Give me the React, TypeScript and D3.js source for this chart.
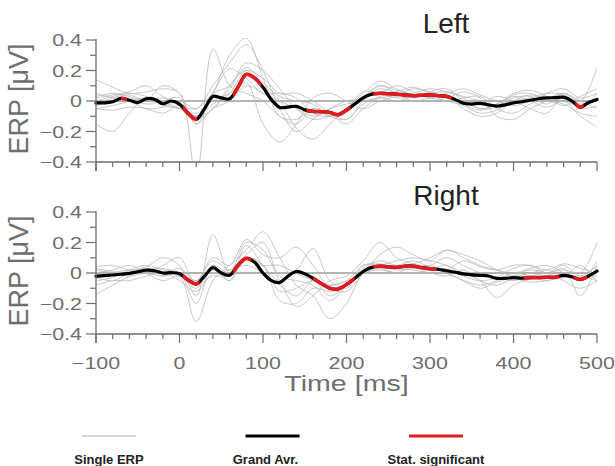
import React, { useEffect, useRef } from 'react';
import * as d3 from 'd3';

// time grids (ms)
const meanTimes = [
  -100, -90, -80, -70, -60, -50, -40, -30, -20, -10, 0, 10, 20, 30, 40, 50, 60, 70, 80, 90,
  100, 110, 120, 130, 140, 150, 160, 170, 180, 190, 200, 210, 220, 230, 240, 250, 260, 270, 280, 290,
  300, 310, 320, 330, 340, 350, 360, 370, 380, 390, 400, 410, 420, 430, 440, 450, 460, 470, 480, 490, 500,
];
const singleTimes = [
  -100, -80, -60, -40, -20, 0, 20, 40, 60, 80, 100, 120, 140, 160, 180, 200,
  220, 240, 260, 280, 300, 320, 340, 360, 380, 400, 420, 440, 460, 480, 500,
];

// grand averages
const leftMean = [
  -0.012, -0.012, -0.005, 0.018, 0.005, -0.01, 0.015, 0.012, -0.018, 0.0, -0.02, -0.08, -0.12, -0.05, 0.03, 0.02, 0.015, 0.09, 0.175, 0.15,
  0.09, 0.01, -0.042, -0.04, -0.035, -0.058, -0.068, -0.07, -0.075, -0.09, -0.06, -0.02, 0.02, 0.045, 0.05, 0.048, 0.045, 0.04, 0.035, 0.038,
  0.04, 0.035, 0.03, 0.01, -0.015, -0.02, -0.015, -0.025, -0.033, -0.025, -0.012, -0.005, 0.005, 0.015, 0.02, 0.022, 0.025, 0.0, -0.04, -0.01, 0.01,
];
const rightMean = [
  -0.02, -0.017, -0.013, -0.008, -0.002, 0.008, 0.018, 0.015, 0.0, 0.002, -0.005, -0.045, -0.072, -0.02, 0.035, 0.0, -0.015, 0.05, 0.096, 0.07,
  0.0, -0.05, -0.062, -0.02, 0.01, -0.005, -0.035, -0.07, -0.1, -0.105, -0.075, -0.035, 0.01, 0.037, 0.045, 0.04, 0.037, 0.045, 0.045, 0.035,
  0.028, 0.024, 0.015, 0.005, -0.006, -0.012, -0.015, -0.02, -0.035, -0.035, -0.03, -0.033, -0.03, -0.03, -0.028, -0.028, -0.015, -0.025, -0.042, -0.02, 0.013,
];

// statistically significant windows (ms)
const leftSignificant = [[-70, -63], [4, 21], [64, 98], [152, 205], [232, 326], [474, 484]];
const rightSignificant = [[4, 24], [64, 86], [160, 210], [232, 308], [412, 455], [472, 488]];

// single subject ERPs
const leftSingles = [
  [0.14, 0.09, 0.05, 0.06, 0.08, 0.05, -0.5, 0.34, 0.1, 0.05, 0.0, -0.1, -0.15, -0.05, -0.1, -0.05, 0.06, 0.05, 0.02, 0.03, 0.05, 0.06, 0.03, 0.0, -0.03, 0.04, 0.05, 0.0, -0.02, -0.08, -0.1],
  [-0.05, -0.03, 0.0, 0.02, 0.0, -0.05, -0.1, 0.05, 0.3, 0.41, 0.15, -0.1, -0.12, -0.05, -0.08, -0.12, 0.0, 0.08, 0.05, 0.02, 0.06, 0.08, 0.0, -0.05, -0.04, 0.02, 0.03, -0.02, 0.05, 0.0, 0.22],
  [0.03, 0.05, 0.03, 0.0, 0.02, -0.03, -0.05, 0.1, 0.25, 0.37, 0.2, -0.05, -0.2, -0.12, -0.05, 0.0, 0.02, 0.1, 0.07, 0.04, 0.02, 0.0, -0.03, -0.08, -0.06, 0.0, 0.02, 0.05, 0.04, -0.05, -0.03],
  [-0.15, -0.2, -0.08, 0.02, -0.03, -0.05, -0.08, 0.0, 0.05, 0.12, -0.15, -0.27, -0.15, 0.02, 0.05, 0.0, -0.05, 0.0, 0.03, 0.05, 0.08, 0.06, 0.02, -0.05, -0.02, 0.03, 0.0, -0.04, 0.0, -0.1, -0.17],
  [0.02, 0.04, 0.06, 0.1, 0.03, -0.02, -0.1, -0.05, 0.1, 0.2, 0.1, 0.0, -0.18, -0.25, -0.15, -0.05, 0.05, 0.13, 0.08, 0.04, 0.03, 0.05, 0.08, 0.04, 0.0, -0.03, 0.0, 0.05, 0.08, 0.02, 0.05],
  [-0.03, 0.0, 0.02, -0.02, 0.0, 0.02, -0.15, 0.05, 0.21, 0.15, 0.05, 0.05, 0.02, -0.08, -0.1, -0.05, 0.02, 0.05, 0.1, 0.06, 0.02, 0.04, -0.02, -0.06, -0.02, 0.05, 0.07, 0.03, -0.03, 0.03, 0.08],
  [0.0, 0.03, 0.05, 0.03, -0.02, -0.05, -0.12, -0.05, 0.08, 0.22, 0.12, 0.03, 0.0, -0.02, -0.1, -0.12, -0.02, 0.03, 0.06, 0.09, 0.05, 0.0, 0.02, 0.03, -0.05, -0.08, -0.02, 0.02, 0.0, -0.02, 0.02],
  [-0.05, -0.06, -0.04, -0.05, -0.08, -0.03, -0.1, -0.02, 0.05, 0.2, 0.15, 0.05, 0.05, 0.0, -0.08, -0.15, -0.05, 0.02, 0.0, 0.03, 0.04, 0.02, 0.06, 0.02, -0.1, -0.12, -0.05, 0.0, 0.05, -0.05, 0.05],
  [0.05, 0.02, 0.0, -0.05, -0.04, 0.0, -0.05, 0.05, 0.1, 0.25, 0.2, 0.08, -0.05, -0.12, -0.1, -0.05, 0.03, 0.1, 0.05, 0.0, 0.02, 0.03, -0.05, -0.1, -0.08, 0.0, 0.04, 0.02, 0.05, 0.0, -0.05],
  [-0.02, 0.02, 0.04, 0.0, 0.1, 0.05, -0.15, -0.05, 0.0, 0.1, 0.05, 0.0, -0.05, -0.1, -0.05, -0.02, 0.0, 0.02, 0.04, 0.08, 0.06, 0.03, 0.0, -0.02, 0.03, 0.0, -0.05, -0.08, 0.03, -0.03, 0.02],
];
const rightSingles = [
  [-0.14, -0.08, -0.02, 0.03, 0.0, -0.02, -0.32, -0.05, 0.05, 0.15, 0.27, 0.1, -0.08, -0.15, -0.3, -0.2, 0.0, 0.05, 0.02, 0.03, 0.05, 0.0, -0.05, -0.1, -0.06, -0.02, 0.02, 0.0, -0.05, -0.1, -0.05],
  [0.04, 0.05, 0.02, 0.04, 0.1, 0.05, -0.15, 0.25, 0.0, 0.2, 0.15, -0.05, -0.22, -0.15, -0.05, -0.02, 0.08, 0.2, 0.1, 0.06, 0.05, 0.1, 0.05, 0.0, -0.03, -0.05, -0.02, 0.0, 0.02, 0.0, 0.2],
  [-0.05, -0.03, 0.02, 0.05, 0.02, 0.0, -0.2, 0.05, -0.05, 0.1, 0.05, -0.18, -0.2, -0.1, -0.12, -0.08, 0.02, 0.05, 0.08, 0.1, 0.08, 0.05, 0.0, -0.05, -0.16, -0.08, -0.04, -0.02, 0.03, -0.15, 0.05],
  [0.02, 0.0, -0.02, 0.0, -0.02, 0.03, -0.05, 0.1, 0.05, 0.22, 0.12, 0.1, 0.17, 0.05, -0.1, -0.12, 0.0, 0.12, 0.17, 0.12, 0.08, 0.15, 0.1, 0.05, 0.02, 0.0, 0.03, 0.05, 0.0, -0.05, 0.08],
  [-0.02, 0.0, 0.02, 0.0, 0.05, 0.1, -0.08, 0.02, -0.05, 0.18, 0.05, -0.05, 0.02, 0.16, -0.05, -0.1, 0.05, 0.05, 0.03, 0.02, 0.0, -0.02, 0.02, -0.05, -0.08, -0.04, -0.06, -0.05, -0.03, -0.02, -0.05],
  [0.0, 0.02, 0.05, 0.0, -0.05, -0.02, -0.1, 0.05, 0.0, 0.1, 0.05, -0.12, -0.1, -0.05, -0.15, -0.08, 0.0, 0.03, 0.0, 0.05, 0.03, 0.0, -0.05, -0.08, -0.05, 0.0, -0.02, -0.05, 0.0, 0.0, -0.02],
  [-0.08, -0.05, -0.05, -0.02, 0.0, -0.05, -0.12, 0.0, 0.02, 0.12, 0.2, -0.02, -0.05, -0.08, -0.18, -0.08, 0.03, 0.08, 0.05, 0.08, 0.04, 0.02, 0.08, 0.04, 0.02, 0.05, 0.05, 0.02, 0.06, 0.03, 0.0],
  [0.03, 0.01, 0.0, 0.02, 0.03, 0.0, -0.05, 0.08, 0.02, 0.05, 0.0, -0.08, -0.15, -0.05, -0.08, -0.05, 0.05, 0.06, 0.04, 0.06, 0.1, 0.15, 0.12, 0.08, 0.02, -0.02, 0.0, 0.02, -0.02, 0.05, -0.06],
  [-0.03, -0.05, 0.0, 0.03, -0.02, 0.0, -0.08, -0.02, -0.02, 0.08, 0.05, 0.05, 0.0, -0.05, -0.08, -0.05, 0.0, 0.02, 0.0, 0.0, 0.02, 0.05, -0.02, -0.05, -0.03, 0.03, 0.05, 0.0, 0.05, -0.02, 0.05],
];

const panelTitles = ['Left', 'Right'];
const yTicks = [-0.4, -0.2, 0, 0.2, 0.4];
const xTicks = [-100, 0, 100, 200, 300, 400, 500];
const legendLabels = ['Single ERP', 'Grand Avr.', 'Stat. significant'];

const GRAY = '#6e6e6e';

const App = () => {
  const svgRef = useRef<SVGSVGElement | null>(null);

  useEffect(() => {
    const svg = d3.select(svgRef.current);
    svg.selectAll('*').remove();

    const width = 615;
    const height = 466;
    svg.attr('width', width).attr('height', height);

    const x = d3.scaleLinear().domain([-100, 500]).range([96, 597]);

    const panels = [
      { title: panelTitles[0], mean: leftMean, singles: leftSingles, sig: leftSignificant, top: 40, bottom: 162, titleY: 33, labels: false },
      { title: panelTitles[1], mean: rightMean, singles: rightSingles, sig: rightSignificant, top: 212, bottom: 334, titleY: 205, labels: true },
    ];

    panels.forEach((p, pi) => {
      const y = d3.scaleLinear().domain([-0.4, 0.4]).range([p.bottom, p.top]);
      const g = svg.append('g');

      // clip region for the plot area
      const clipId = `plot-clip-${pi}`;
      svg.append('clipPath').attr('id', clipId)
        .append('rect')
        .attr('x', x(-100)).attr('y', p.top - 2)
        .attr('width', x(500) - x(-100)).attr('height', p.bottom - p.top + 2);

      // zero line
      g.append('line')
        .attr('x1', x(-100)).attr('x2', x(500))
        .attr('y1', y(0)).attr('y2', y(0))
        .attr('stroke', '#555').attr('stroke-width', 0.9);

      // single ERPs
      const singleLine = d3.line<number>()
        .x((_, i) => x(singleTimes[i]))
        .y(d => y(d))
        .curve(d3.curveCatmullRom.alpha(0.5));
      g.append('g').attr('clip-path', `url(#${clipId})`)
        .selectAll('path')
        .data(p.singles)
        .enter()
        .append('path')
        .attr('d', d => singleLine(d))
        .attr('fill', 'none')
        .attr('stroke', '#bababa')
        .attr('stroke-width', 0.8);

      // grand average
      const meanLine = d3.line<number>()
        .x((_, i) => x(meanTimes[i]))
        .y(d => y(d))
        .curve(d3.curveCatmullRom.alpha(0.5));
      g.append('path')
        .attr('d', meanLine(p.mean))
        .attr('fill', 'none')
        .attr('stroke', '#000')
        .attr('stroke-width', 3.2)
        .attr('stroke-linecap', 'round');

      // significant windows in red
      p.sig.forEach((s, si) => {
        const id = `sig-${pi}-${si}`;
        svg.append('clipPath').attr('id', id)
          .append('rect')
          .attr('x', x(s[0])).attr('y', p.top - 10)
          .attr('width', x(s[1]) - x(s[0])).attr('height', p.bottom - p.top + 20);
        g.append('path')
          .attr('clip-path', `url(#${id})`)
          .attr('d', meanLine(p.mean))
          .attr('fill', 'none')
          .attr('stroke', '#e3191c')
          .attr('stroke-width', 3.5);
      });

      // y axis
      g.append('line')
        .attr('x1', x(-100)).attr('x2', x(-100))
        .attr('y1', p.top - 1).attr('y2', p.bottom + 9)
        .attr('stroke', GRAY).attr('stroke-width', 1.3);
      const yMinor = d3.range(-4, 5).map(v => v / 10);
      g.selectAll('.ytick')
        .data(yMinor)
        .enter()
        .append('line')
        .attr('x1', d => x(-100) - (yTicks.some(t => Math.abs(t - d) < 1e-9) ? 10 : 6))
        .attr('x2', x(-100))
        .attr('y1', d => y(d)).attr('y2', d => y(d))
        .attr('stroke', GRAY).attr('stroke-width', 1.2);
      g.selectAll('.ylab')
        .data(yTicks)
        .enter()
        .append('text')
        .attr('transform', d => `translate(82,${y(d) + 6}) scale(1.3,1)`)
        .attr('text-anchor', 'end')
        .style('font-family', 'Liberation Sans, Arial, sans-serif')
        .style('font-size', '16.5px')
        .style('fill', GRAY)
        .text(d => (d === 0 ? '0' : d3.format('.1f')(d).replace('-', '\u2212')));

      // x axis
      g.append('line')
        .attr('x1', x(-100)).attr('x2', x(500))
        .attr('y1', p.bottom).attr('y2', p.bottom)
        .attr('stroke', GRAY).attr('stroke-width', 1.3);
      const xMinor = d3.range(-100, 501, 20);
      g.selectAll('.xtick')
        .data(xMinor)
        .enter()
        .append('line')
        .attr('x1', d => x(d)).attr('x2', d => x(d))
        .attr('y1', p.bottom)
        .attr('y2', d => p.bottom + (d % 100 === 0 ? 9 : 5))
        .attr('stroke', GRAY).attr('stroke-width', 1.2);

      if (p.labels) {
        g.selectAll('.xlab')
          .data(xTicks)
          .enter()
          .append('text')
          .attr('transform', d => `translate(${x(d)},${p.bottom + 35}) scale(1.3,1)`)
          .attr('text-anchor', 'middle')
          .style('font-family', 'Liberation Sans, Arial, sans-serif')
          .style('font-size', '16.5px')
          .style('fill', GRAY)
          .text(d => String(d).replace('-', '\u2212'));

        g.append('text')
          .attr('transform', `translate(${(x(-100) + x(500)) / 2},${p.bottom + 57}) scale(1.3,1)`)
          .attr('text-anchor', 'middle')
          .style('font-family', 'Liberation Sans, Arial, sans-serif')
          .style('font-size', '22px')
          .style('fill', GRAY)
          .text('Time [ms]');
      }

      // y label
      g.append('text')
        .attr('transform', `translate(28,${(p.top + p.bottom) / 2 - 2}) rotate(-90)`)
        .attr('text-anchor', 'middle')
        .style('font-family', 'Liberation Sans, Arial, sans-serif')
        .style('font-size', '27px')
        .style('fill', GRAY)
        .text('ERP [\u03bcV]');

      // panel title
      g.append('text')
        .attr('x', 446).attr('y', p.titleY)
        .attr('text-anchor', 'middle')
        .style('font-family', 'Liberation Sans, Arial, sans-serif')
        .style('font-size', '28px')
        .style('fill', '#222')
        .text(p.title);
    });

    // legend
    const legendColors = ['#d6d6d6', '#000', '#e3191c'];
    const legendWidths = [2.2, 3, 3];
    const legendX = d3.scalePoint<string>().domain(legendLabels).range([109, 436]);
    const lg = svg.append('g');
    legendLabels.forEach((label, i) => {
      const cx = legendX(label) as number;
      lg.append('line')
        .attr('x1', cx - 27).attr('x2', cx + 27)
        .attr('y1', 436).attr('y2', 436)
        .attr('stroke', legendColors[i]).attr('stroke-width', legendWidths[i]);
      lg.append('text')
        .attr('x', cx + (i === 1 ? -7 : 0)).attr('y', 464)
        .attr('text-anchor', 'middle')
        .style('font-family', 'Liberation Sans, Arial, sans-serif')
        .style('font-weight', 'bold')
        .style('font-size', '13px')
        .style('fill', '#222')
        .text(label);
    });
  }, []);

  return (
    <svg ref={svgRef} style={{ position: 'absolute', left: 0, top: 0, background: '#fff' }}></svg>
  );
};

export default App;
